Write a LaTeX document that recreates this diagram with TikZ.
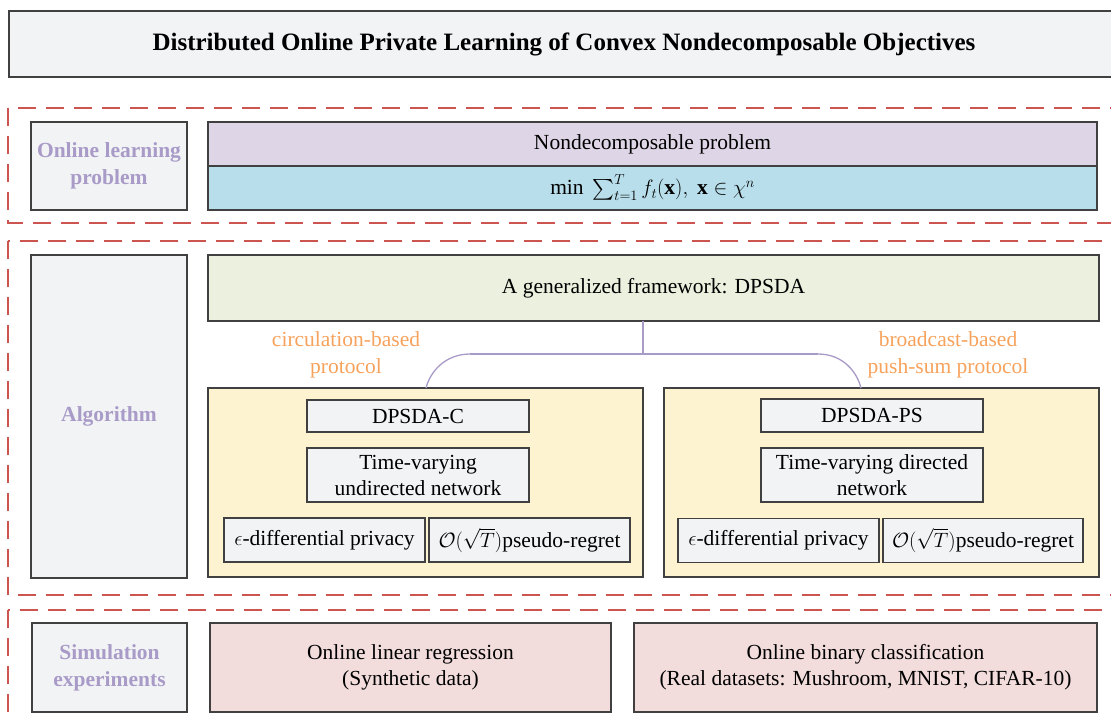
\documentclass[tikz,border=0pt]{standalone}
\usepackage{fontspec}
\setmainfont{Liberation Serif}
\usepackage{amsmath}

\definecolor{boxgray}{RGB}{242,243,245}
\definecolor{probpurple}{RGB}{222,214,230}
\definecolor{probblue}{RGB}{183,222,234}
\definecolor{frmgreen}{RGB}{235,241,222}
\definecolor{algyellow}{RGB}{253,243,208}
\definecolor{simpink}{RGB}{242,220,220}
\definecolor{dashred}{RGB}{205,85,80}
\definecolor{protorange}{RGB}{247,162,92}
\definecolor{lblpurple}{RGB}{169,155,200}

\begin{document}
\begin{tikzpicture}[x=1pt, y=-1pt]
\tikzset{ inner sep=0pt, outer sep=0pt,
  box/.style={draw=black!75, line width=1.1pt, align=center,
    font=\fontsize{21.5}{26}\selectfont},
  lbl/.style={box, fill=boxgray, text=lblpurple,
    font=\fontsize{21.5}{27}\selectfont\bfseries},
  part/.style={dashred, line width=2.5pt, dash pattern=on 18pt off 10pt},
  proto/.style={text=protorange, align=center,
    font=\fontsize{21.5}{27}\selectfont},
  link/.style={lblpurple, line width=1.3pt},
}
\useasboundingbox (0,0) rectangle (1111,721);
\clip (0,0) rectangle (1111,721);

%\draw [lightgray, dashed](0,0) grid[step=50] (1111,721);

\node [box, fill=boxgray, line width=1.4pt, minimum width=1110pt, minimum height=66pt,
  font=\fontsize{25}{30}\selectfont\bfseries] (title) at (564,44)
  {Distributed Online Private Learning of Convex Nondecomposable Objectives};

\draw [part] (8,108) rectangle (1125,223);
\draw [part] (8,241) rectangle (1125,595);
\draw [part] (8,610) rectangle (1125,740);

% left column
\node [lbl, minimum width=156pt, minimum height=88pt]  (LP)  at (109,166)   {Online learning\\problem};
\node [lbl, minimum width=156pt, minimum height=323pt] (ALG) at (109,416.5) {Algorithm};
\node [lbl, minimum width=155pt, minimum height=89pt]  (SIM) at (109.5,667.5) {Simulation\\experiments};

% problem
\node [box, fill=probpurple, minimum width=889pt, minimum height=44pt] (NP)  at (652.5,144) {Nondecomposable problem};
\node [box, fill=probblue,   minimum width=889pt, minimum height=44pt] (MIN) at (652.5,188)
  {$\min\ \sum_{t=1}^{T} f_t(\mathbf{x}),\ \mathbf{x}\in\chi^n$};

% algorithm
\node [box, fill=frmgreen, minimum width=891pt, minimum height=66pt] (FW) at (653.5,288) {A generalized framework: DPSDA};

\node [box, fill=algyellow, minimum width=435pt, minimum height=189pt] (YL) at (425.5,482.5) {};
\node [box, fill=algyellow, minimum width=435pt, minimum height=189pt] (YR) at (881.5,482.5) {};

\node [box, fill=boxgray, minimum width=222pt, minimum height=32pt] (DC)  at (418,416) {DPSDA-C};
\node [box, fill=boxgray, minimum width=222pt, minimum height=54pt] (TVU) at (418,475) {Time-varying\\undirected network};
\node [box, fill=boxgray, minimum width=201pt, minimum height=44pt] (EL)  at (324.5,540) {$\epsilon$-differential privacy};
\node [box, fill=boxgray, minimum width=201pt, minimum height=44pt] (OL)  at (529.5,540) {$\mathcal{O}(\sqrt{T})$pseudo-regret};

\node [box, fill=boxgray, minimum width=222pt, minimum height=33pt] (DPS) at (872,415.5) {DPSDA-PS};
\node [box, fill=boxgray, minimum width=222pt, minimum height=54pt] (TVD) at (872,475) {Time-varying directed\\network};
\node [box, fill=boxgray, minimum width=201pt, minimum height=44pt] (ER)  at (778.5,540.5) {$\epsilon$-differential privacy};
\node [box, fill=boxgray, minimum width=200pt, minimum height=44pt] (OR)  at (983,540.5) {$\mathcal{O}(\sqrt{T})$pseudo-regret};

\node [proto] (PC) at (346,355) {circulation-based\\protocol};
\node [proto] (PB) at (948,355) {broadcast-based\\push-sum protocol};

\coordinate (fork)  at (643,354);
\coordinate (forkL) at (470,354);
\coordinate (forkR) at (818,354);
\coordinate (endL)  at (426,388);
\coordinate (endR)  at (861,388);

\draw [link] (FW.south -| fork) -- (fork);
\draw [link] (forkL) -- (forkR);
\draw [link] (forkL) .. controls (445,354) and (430,372) .. (endL);
\draw [link] (forkR) .. controls (843,354) and (857,372) .. (endR);

% simulation
\node [box, fill=simpink, minimum width=401pt, minimum height=89pt] (LR) at (410.5,667.5) {Online linear regression\\(Synthetic data)};
\node [box, fill=simpink, minimum width=463pt, minimum height=89pt] (BC) at (865.5,667.5) {Online binary classification\\(Real datasets: Mushroom, MNIST, CIFAR-10)};

\end{tikzpicture}
\end{document}
